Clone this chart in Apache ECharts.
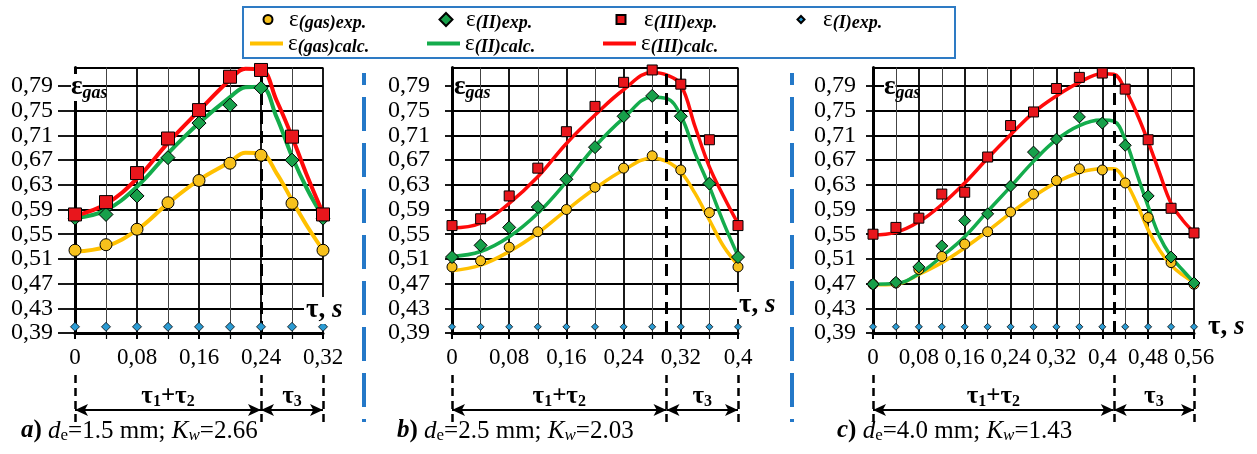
<!DOCTYPE html>
<html><head><meta charset="utf-8">
<script src="https://cdn.jsdelivr.net/npm/echarts@6/dist/echarts.min.js"></script>
<style>html,body{margin:0;padding:0;background:#fff}#c{width:1257px;height:454px}</style>
</head><body><div id="c"></div><script>
// ---------- data ----------
const yTicks = [0.39,0.43,0.47,0.51,0.55,0.59,0.63,0.67,0.71,0.75,0.79];

// panel a
const tA = [0,0.04,0.08,0.12,0.16,0.20,0.24,0.28,0.32];
const gasExpA = [0.524,0.533,0.558,0.601,0.637,0.665,0.678,0.600,0.524];
const iiExpA  = [0.576,0.582,0.612,0.674,0.730,0.759,0.787,0.670,0.576];
const iiiExpA = [0.582,0.602,0.649,0.705,0.751,0.805,0.816,0.708,0.582];
const iExpA   = [0.40,0.40,0.40,0.40,0.40,0.40,0.40,0.40,0.40];
const tCalcA  = [0,0.04,0.08,0.12,0.16,0.20,0.22,0.24,0.26,0.28,0.30,0.32];
const gasCalcA = [0.522,0.530,0.557,0.600,0.638,0.667,0.682,0.681,0.649,0.605,0.562,0.524];
const iiCalcA  = [0.576,0.589,0.627,0.681,0.730,0.772,0.788,0.789,0.740,0.676,0.622,0.578];
const iiiCalcA = [0.580,0.599,0.640,0.698,0.750,0.800,0.818,0.817,0.767,0.708,0.643,0.584];
const phaseA = [0,0.24,0.32];

// panel b
const tB = [0,0.04,0.08,0.12,0.16,0.20,0.24,0.28,0.32,0.36,0.40];
const gasExpB = [0.497,0.507,0.529,0.554,0.590,0.626,0.657,0.677,0.654,0.585,0.497];
const iiExpB  = [0.513,0.532,0.561,0.594,0.639,0.691,0.741,0.774,0.741,0.632,0.513];
const iiiExpB = [0.564,0.575,0.612,0.657,0.716,0.757,0.796,0.816,0.793,0.703,0.564];
const iExpB   = [0.40,0.40,0.40,0.40,0.40,0.40,0.40,0.40,0.40,0.40,0.40];
const tCalcB  = [0,0.04,0.08,0.12,0.16,0.20,0.24,0.28,0.30,0.32,0.34,0.36,0.38,0.40];
const gasCalcB = [0.491,0.500,0.522,0.552,0.589,0.624,0.654,0.673,0.668,0.651,0.616,0.573,0.530,0.500];
const iiCalcB  = [0.514,0.522,0.546,0.584,0.635,0.692,0.738,0.772,0.770,0.742,0.681,0.627,0.568,0.515];
const iiiCalcB = [0.560,0.568,0.600,0.643,0.697,0.743,0.784,0.812,0.808,0.792,0.724,0.659,0.611,0.567];
const phaseB = [0,0.30,0.40];

// panel c
const tC = [0,0.04,0.08,0.12,0.16,0.20,0.24,0.28,0.32,0.36,0.40,0.44,0.48,0.52,0.56];
const gasExpC = [0.469,0.471,0.493,0.514,0.534,0.554,0.586,0.615,0.637,0.656,0.654,0.633,0.577,0.504,0.469];
const iiExpC  = [0.469,0.472,0.497,0.531,0.572,0.583,0.628,0.683,0.704,0.740,0.730,0.694,0.612,0.513,0.471];
const iiiExpC = [0.550,0.561,0.576,0.615,0.618,0.675,0.726,0.748,0.786,0.804,0.811,0.785,0.703,0.592,0.552];
const iExpC   = [0.40,0.40,0.40,0.40,0.40,0.40,0.40,0.40,0.40,0.40,0.40,0.40,0.40,0.40,0.40];
const tCalcC  = [0,0.04,0.08,0.12,0.16,0.20,0.24,0.28,0.32,0.36,0.40,0.42,0.44,0.46,0.48,0.50,0.52,0.54,0.56];
const gasCalcC = [0.468,0.469,0.485,0.504,0.528,0.555,0.584,0.611,0.634,0.650,0.656,0.656,0.636,0.600,0.557,0.524,0.500,0.484,0.472];
const iiCalcC  = [0.469,0.470,0.486,0.514,0.546,0.587,0.627,0.668,0.703,0.726,0.735,0.733,0.703,0.649,0.595,0.546,0.514,0.492,0.472];
const iiiCalcC = [0.549,0.553,0.570,0.598,0.633,0.673,0.711,0.747,0.774,0.796,0.810,0.809,0.784,0.746,0.700,0.649,0.600,0.573,0.553];
const phaseC = [0,0.42,0.56];

const expNames  = ['ε(gas)exp.','ε(II)exp.','ε(III)exp.','ε(I)exp.'];
const calcNames = ['ε(gas)calc.','ε(II)calc.','ε(III)calc.'];
const captions = [['a',')','1.5','2.66'],['b',')','2.5','2.03'],['c',')','4.0','1.43']];

// ---------- build ----------
const SERIF = '"Liberation Serif", "Times New Roman", serif';
const COL = {gasL:'#ffc000', gasF:'#f7c11c', iiL:'#14ac4c', iiF:'#17a04a', iiiL:'#ff0a0a', iiiF:'#e8161c', iF:'#2b9bd3'};
const zip = (xs, ys) => xs.map((x, k) => [x, ys[k]]);
const fmt = v => String(Math.round(v * 100) / 100).replace('.', ',');
const N = 'normal';
const tickFmt = v => '{v|' + fmt(v) + '}';
const tickRichX = {v:{fontFamily:SERIF, fontWeight:N, fontSize:23, color:'#000'}};
const tickRichY = {v:{fontFamily:SERIF, fontWeight:N, fontSize:24, color:'#000'}};

const panels = [
  {t:tA, gas:gasExpA, ii:iiExpA, iii:iiiExpA, i:iExpA, tc:tCalcA, gasC:gasCalcA, iiC:iiCalcA, iiiC:iiiCalcA, xMax:0.32, phase:phaseA},
  {t:tB, gas:gasExpB, ii:iiExpB, iii:iiiExpB, i:iExpB, tc:tCalcB, gasC:gasCalcB, iiC:iiCalcB, iiiC:iiiCalcB, xMax:0.40, phase:phaseB},
  {t:tC, gas:gasExpC, ii:iiExpC, iii:iiiExpC, i:iExpC, tc:tCalcC, gasC:gasCalcC, iiC:iiCalcC, iiiC:iiiCalcC, xMax:0.56, phase:phaseC}
];
const layout = [
  {left:75,  width:248, tick:17, margin:22, sz:[12,14,13,9], lw:4,   epsLeft:71,  tauLeft:304,  tauTop:297, capLeft:21},
  {left:452, width:286, tick:7,  margin:22, sz:[10,13,10,7], lw:3.5, epsLeft:454, tauLeft:737,  tauTop:292, capLeft:397},
  {left:873, width:321, tick:7,  margin:17, sz:[10,12,10,7], lw:3.5, epsLeft:884, tauLeft:1206, tauTop:314, capLeft:837}
];
const TOP = 67.5, H = 265.5;

const grid = [], xAxis = [], yAxis = [], series = [], title = [];
const tauRich = {
  t:{fontFamily:SERIF, fontWeight:'bold', fontSize:25, color:'#000'},
  s:{fontFamily:SERIF, fontWeight:'bold', fontSize:16, color:'#000', padding:[10,0,0,0]}
};

panels.forEach((p, i) => {
  const L = layout[i];
  const mi = 2 * i, ai = 2 * i + 1;   // main grid / annotation strip
  grid.push({left:L.left, top:TOP, width:L.width, height:H, outerBoundsMode:'none'});
  grid.push({left:L.left, top:372, width:L.width, height:50, outerBoundsMode:'none'});
  xAxis.push({
    type:'value', gridIndex:mi, min:0, max:p.xMax, interval:0.08,
    axisLine:{show:true, onZero:false, lineStyle:{color:'#000', width:3}},
    axisTick:{show:true, length:6, lineStyle:{color:'#000', width:2}},
    minorTick:{show:true, splitNumber:2, length:6, lineStyle:{color:'#000', width:1.2}},
    axisLabel:{show:true, margin:13, formatter:tickFmt, rich:tickRichX,
               showMinLabel:true, showMaxLabel:true, hideOverlap:false},
    splitLine:{show:true, lineStyle:{color:'#000', width:1.8}},
    minorSplitLine:{show:true, lineStyle:{color:'#444', width:1}}
  });
  xAxis.push({type:'value', gridIndex:ai, min:0, max:p.xMax, show:false});
  yAxis.push({
    type:'value', gridIndex:mi, min:0.39, max:0.82, interval:0.04,
    axisLine:{show:true, onZero:false, lineStyle:{color:'#000', width:3}},
    axisTick:{show:true, length:L.tick, lineStyle:{color:'#000', width:1.8}},
    axisLabel:{show:true, margin:L.margin, formatter:tickFmt, rich:tickRichY, hideOverlap:false},
    splitLine:{show:true, lineStyle:{color:'#000', width:1.8}}
  });
  yAxis.push({type:'value', gridIndex:ai, min:0, max:1, show:false});

  const lineS = (name, ys, c) => ({
    type:'line', name, xAxisIndex:mi, yAxisIndex:mi, data:zip(p.tc, ys), smooth:0.4,
    symbol:'none', showSymbol:false, lineStyle:{color:c, width:L.lw}, itemStyle:{color:c}, z:3, silent:true
  });
  series.push(lineS(calcNames[0], p.gasC, COL.gasL));
  series.push(lineS(calcNames[1], p.iiC, COL.iiL));
  series.push(lineS(calcNames[2], p.iiiC, COL.iiiL));

  const sc = (name, ys, sym, size, fill, bw) => ({
    type:'scatter', name, xAxisIndex:mi, yAxisIndex:mi, data:zip(p.t, ys), symbol:sym, symbolSize:size,
    itemStyle:{color:fill, borderColor:'#000', borderWidth:bw, opacity:1}, z:5, silent:true
  });
  series.push(sc(expNames[0], p.gas, 'circle', L.sz[0], COL.gasF, 1));
  series.push(sc(expNames[1], p.ii, 'diamond', L.sz[1], COL.iiF, 1));
  series.push(sc(expNames[2], p.iii, 'rect', L.sz[2], COL.iiiF, 1));
  const iS = sc(expNames[3], p.i, 'diamond', L.sz[3], COL.iF, 0.8);
  iS.markLine = {silent:true, animation:false, symbol:['none','none'], label:{show:false},
                 lineStyle:{color:'#000', width:3, type:[12,7]}, data:[{xAxis:p.phase[1]}]};
  series.push(iS);

  // annotation strip below the axis (phases)
  const arrowLine = (a, b, txt) => [
    {coord:[a, 0.24], symbol:'arrow', symbolSize:[9,13],
     lineStyle:{type:'solid', width:2, color:'#000'},
     label:{show:true, position:'middle', distance:0, formatter:txt, rich:tauRich}},
    {coord:[b, 0.24], symbol:'arrow', symbolSize:[9,13]}
  ];
  series.push({
    type:'scatter', xAxisIndex:ai, yAxisIndex:ai, data:[], symbolSize:0, silent:true,
    markLine:{silent:true, animation:false, symbol:['none','none'], label:{show:false},
      lineStyle:{color:'#000', width:2.5, type:[8,5]},
      data:[
        {xAxis:p.phase[0]}, {xAxis:p.phase[1]}, {xAxis:p.phase[2]},
        arrowLine(p.phase[0], p.phase[1], '{t|τ}{s|1}{t|+τ}{s|2}'),
        arrowLine(p.phase[1], p.phase[2], '{t|τ}{s|3}')
      ]}
  });

  // axis names and caption
  title.push({left:L.epsLeft, top:73, padding:0, text:'{e|ε}{s|gas}', textStyle:{rich:{
    e:{fontFamily:SERIF, fontWeight:'bold', fontSize:27, color:'#000', backgroundColor:'#fff'},
    s:{fontFamily:SERIF, fontWeight:'bold', fontStyle:'italic', fontSize:18, color:'#000', padding:[11,0,0,0]}}}});
  title.push({left:L.tauLeft, top:L.tauTop, padding:[0,2], backgroundColor:'#fff', text:'{t|τ, }{s|s}', textStyle:{rich:{
    t:{fontFamily:SERIF, fontWeight:'bold', fontSize:27, color:'#000'},
    s:{fontFamily:SERIF, fontWeight:'bold', fontStyle:'italic', fontSize:27, color:'#000'}}}});
  const cp = captions[i];
  title.push({left:L.capLeft, top:418, padding:0,
    text:'{bi|' + cp[0] + '}{b|' + cp[1] + '}{n| }{i|d}{sub|e}{n|=' + cp[2] + ' mm; }{i|K}{subi|w}{n|=' + cp[3] + '}',
    textStyle:{fontWeight:N, rich:{
      bi:{fontFamily:SERIF, fontWeight:'bold', fontStyle:'italic', fontSize:25, color:'#000'},
      b:{fontFamily:SERIF, fontWeight:'bold', fontSize:25, color:'#000'},
      i:{fontFamily:SERIF, fontWeight:N, fontStyle:'italic', fontSize:25, color:'#000'},
      n:{fontFamily:SERIF, fontWeight:N, fontSize:25, color:'#000'},
      sub:{fontFamily:SERIF, fontWeight:N, fontSize:17, color:'#000', padding:[9,0,0,0]},
      subi:{fontFamily:SERIF, fontWeight:N, fontStyle:'italic', fontSize:17, color:'#000', padding:[9,0,0,0]}
    }}});
});

// legends (one per item, placed in two rows)
const legRich = pad => ({
  e:{fontFamily:SERIF, fontWeight:N, fontSize:23, color:'#000', padding:[0,0,0,pad]},
  s:{fontFamily:SERIF, fontWeight:'bold', fontStyle:'italic', fontSize:18, color:'#000', padding:[8,0,0,0]}
});
const legFmt = name => '{e|ε}{s|' + name.slice(1) + '}';
const expCenter = [267, 445, 620, 800], expSize = [9, 13, 9, 7], expText = [288, 465, 643, 822];
const calcLeft = [250, 427, 603];
const legend = [];
expNames.forEach((n, k) => {
  const s = expSize[k], left = expCenter[k] - s / 2;
  legend.push({
    data:[n], left, top:8, padding:0, itemWidth:s, itemHeight:s, selectedMode:false,
    formatter:legFmt, textStyle:{rich:legRich(expText[k] - (left + s + 5))}
  });
});
calcNames.forEach((n, k) => legend.push({
  data:[n], left:calcLeft[k], top:32, padding:0, itemWidth:33, itemHeight:4, icon:'rect', selectedMode:false,
  formatter:legFmt, textStyle:{rich:legRich(0)}
}));

const chart = echarts.init(document.getElementById('c'));
chart.setOption({
  animation:false,
  backgroundColor:'#fff',
  textStyle:{fontFamily:SERIF},
  grid, xAxis, yAxis, series, title, legend,
  graphic:[
    {type:'rect', shape:{x:243, y:7, width:712, height:51}, style:{fill:'none', stroke:'#2e7bc4', lineWidth:2}, silent:true},
    {type:'line', shape:{x1:364, y1:73, x2:364, y2:422}, style:{stroke:'#2478c8', lineWidth:4, lineDash:[34,12], lineDashOffset:22}, silent:true},
    {type:'line', shape:{x1:792, y1:73, x2:792, y2:422}, style:{stroke:'#2478c8', lineWidth:4, lineDash:[34,12], lineDashOffset:22}, silent:true}
  ]
});
</script></body></html>
